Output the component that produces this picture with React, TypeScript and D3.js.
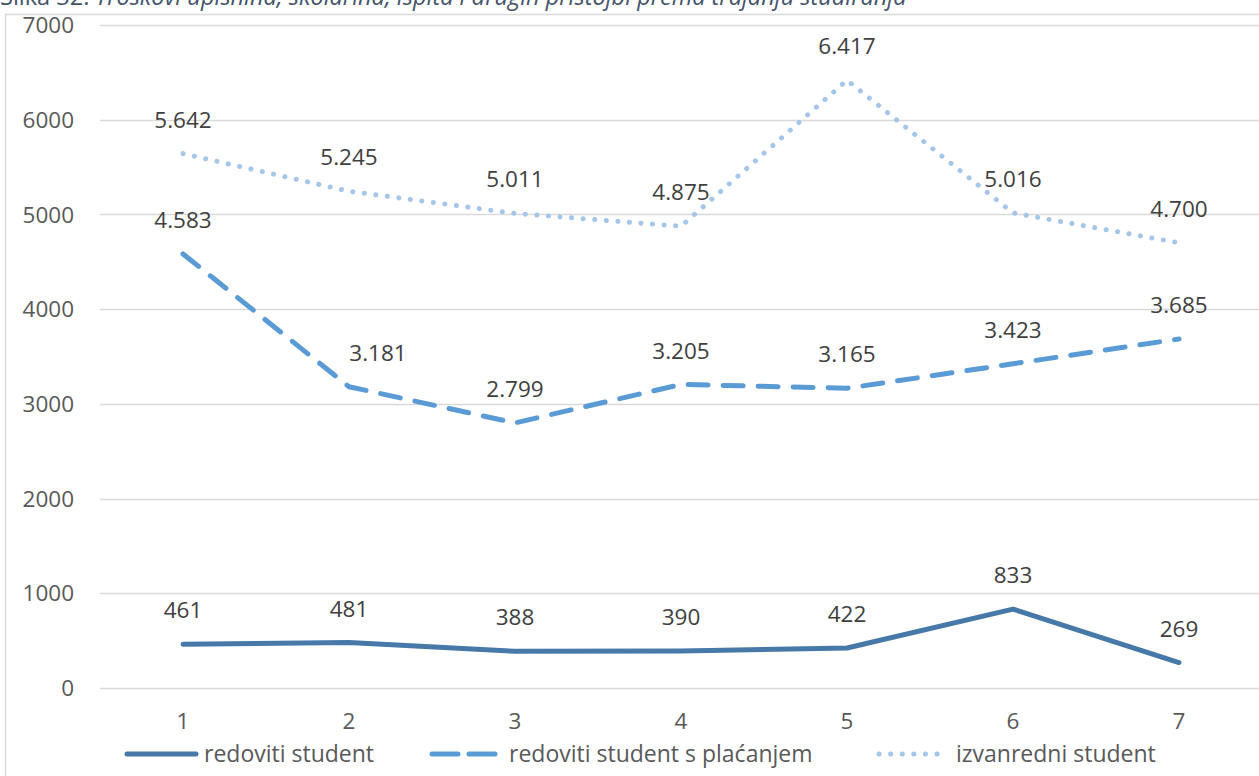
import React, { useRef, useEffect } from 'react';
import * as d3 from 'd3';

const categories = ['1', '2', '3', '4', '5', '6', '7'];
const redoviti = [461, 481, 388, 390, 422, 833, 269];
const redovitiPlacanje = [4583, 3181, 2799, 3205, 3165, 3423, 3685];
const izvanredni = [5642, 5245, 5011, 4875, 6417, 5016, 4700];
const yTicks = [0, 1000, 2000, 3000, 4000, 5000, 6000, 7000];
const seriesNames = ['redoviti student', 'redoviti student s plaćanjem', 'izvanredni student'];
const titleLead = 'Slika 32. ';
const titleText = 'Troškovi upisnina, školarina, ispita i drugih pristojbi prema trajanju studiranja';

const W = 1259;
const H = 776;
const FONT = '"Open Sans", "Noto Sans", sans-serif';
const FS = 22.5;

const App: React.FC = () => {
  const svgRef = useRef<SVGSVGElement | null>(null);

  useEffect(() => {
    const svg = d3.select(svgRef.current!);
    svg.selectAll('*').remove();

    const margin = { left: 100, right: -3, top: 25, bottom: 88 };
    const x = d3.scaleBand<string>()
      .domain(categories)
      .range([margin.left, W - margin.right]);
    const y = d3.scaleLinear()
      .domain([0, 7000])
      .range([H - margin.bottom, margin.top]);

    const hr = d3.formatLocale({ decimal: ',', thousands: '.', grouping: [3], currency: ['', ' kn'] });
    const fmt = hr.format(',d');

    // title, mostly cut off at the top (as in the source)
    const t = svg.append('text')
      .attr('x', 0)
      .attr('y', 5)
      .attr('font-family', FONT)
      .attr('font-size', 23.5)
      .attr('fill', '#44546A');
    t.append('tspan').text(titleLead);
    t.append('tspan').attr('font-style', 'italic').text(titleText);

    // chart frame
    svg.append('rect')
      .attr('x', 5.5)
      .attr('y', 14.5)
      .attr('width', W + 10)
      .attr('height', H + 10)
      .attr('fill', 'white')
      .attr('stroke', '#D9D9D9')
      .attr('stroke-width', 1.5);

    // gridlines + y labels
    const grid = svg.append('g');
    yTicks.forEach((tk) => {
      grid.append('line')
        .attr('x1', margin.left)
        .attr('x2', W)
        .attr('y1', Math.round(y(tk)) + 0.5)
        .attr('y2', Math.round(y(tk)) + 0.5)
        .attr('stroke', '#D9D9D9')
        .attr('stroke-width', 1.5);
      grid.append('text')
        .attr('x', 74)
        .attr('y', y(tk))
        .attr('dy', '0.36em')
        .attr('text-anchor', 'end')
        .attr('font-family', FONT)
        .attr('font-size', FS)
        .attr('fill', '#595959')
        .text(tk);
    });

    // x labels
    svg.append('g')
      .selectAll('text')
      .data(categories)
      .enter()
      .append('text')
      .attr('x', (d) => x(d)! + x.bandwidth() / 2)
      .attr('y', 729)
      .attr('text-anchor', 'middle')
      .attr('font-family', FONT)
      .attr('font-size', FS)
      .attr('fill', '#595959')
      .text((d) => d);

    const styles = [
      { color: '#4678A8', dash: null as string | null },
      { color: '#5B9BD5', dash: '20 15' },
      { color: '#A5C6E8', dash: '0.1 11.5' },
    ];
    const allSeries = [redoviti, redovitiPlacanje, izvanredni];

    const line = d3.line<number>()
      .x((_, i) => x(categories[i])! + x.bandwidth() / 2)
      .y((d) => y(d));

    allSeries.forEach((vals, si) => {
      const st = styles[si];
      svg.append('path')
        .datum(vals)
        .attr('d', line)
        .attr('fill', 'none')
        .attr('stroke', st.color)
        .attr('stroke-width', 5)
        .attr('stroke-linecap', 'round')
        .attr('stroke-linejoin', 'round')
        .attr('stroke-dasharray', st.dash);
    });

    // data labels
    allSeries.forEach((vals, si) => {
      svg.append('g')
        .selectAll('text')
        .data(vals)
        .enter()
        .append('text')
        .attr('x', (d, i) => x(categories[i])! + x.bandwidth() / 2 + (si === 1 && i === 1 ? 29 : 0))
        .attr('y', (d) => y(d) - 34)
        .attr('dy', '0.36em')
        .attr('text-anchor', 'middle')
        .attr('font-family', FONT)
        .attr('font-size', FS)
        .attr('fill', '#404040')
        .text((d) => fmt(d));
    });

    // legend
    const legendX = [125, 430, 877];
    const legendY = 754;
    seriesNames.forEach((name, si) => {
      const st = styles[si];
      const g = svg.append('g');
      g.append('line')
        .attr('x1', legendX[si] + 2)
        .attr('x2', legendX[si] + 71)
        .attr('y1', legendY)
        .attr('y2', legendY)
        .attr('stroke', st.color)
        .attr('stroke-width', 5)
        .attr('stroke-linecap', 'round')
        .attr('stroke-dasharray', si === 1 ? '26 11' : st.dash);
      g.append('text')
        .attr('x', legendX[si] + 79)
        .attr('y', legendY)
        .attr('dy', '0.36em')
        .attr('font-family', FONT)
        .attr('font-size', FS + 0.5)
        .attr('fill', '#595959')
        .text(name);
    });
  }, []);

  return (
    <svg
      ref={svgRef}
      width={W}
      height={H}
      style={{ position: 'absolute', left: 0, top: 0, background: 'white' }}
    />
  );
};

export default App;
